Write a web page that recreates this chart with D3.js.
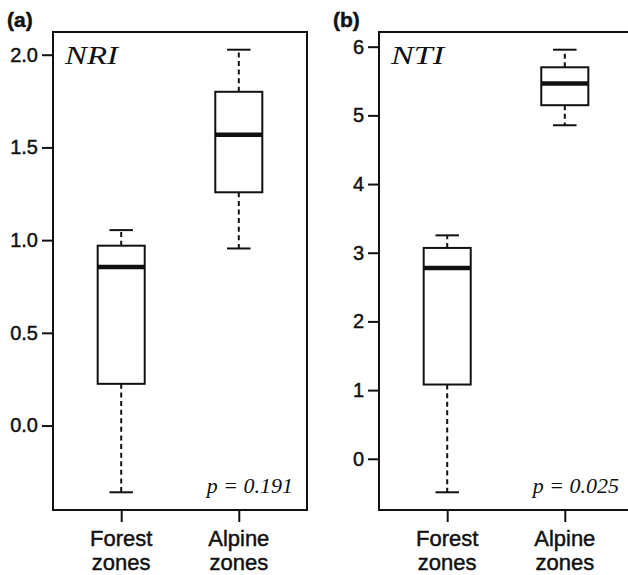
<!DOCTYPE html>
<html>
<head>
<meta charset="utf-8">
<script src="https://cdn.jsdelivr.net/npm/d3@7"></script>
<style>
  body { margin: 0; background: #fff; }
  svg { display: block; }
  text { stroke: #111; stroke-width: 0.45px; }
  text.serif { stroke: none; }
  .axis text { font-family: Arial, "Liberation Sans", sans-serif; font-size: 20px; fill: #111; }
  .axis line { stroke: #111; stroke-width: 2px; }
  .axis path { display: none; }
</style>
</head>
<body>
<svg id="chart"></svg>
<script>
// Box statistics: [lower whisker, Q1, median, Q3, upper whisker]
const groups = ["Forest zones", "Alpine zones"];
const nriForest = [-0.36, 0.225, 0.855, 0.97, 1.054];
const nriAlpine = [0.955, 1.258, 1.568, 1.80, 2.027];
const ntiForest = [-0.488, 1.081, 2.777, 3.07, 3.253];
const ntiAlpine = [4.856, 5.148, 5.465, 5.70, 5.956];
const nriTicks = [0, 0.5, 1.0, 1.5, 2.0];
const ntiTicks = [0, 1, 2, 3, 4, 5, 6];

const svg = d3.select('#chart')
    .attr('width', 628)
    .attr('height', 575);

const ink = '#111';

function drawPanel(cfg) {
    const g = svg.append('g');

    // R style ranges: extend by 4% on each side
    const lo = d3.min(cfg.stats, d => d[0]);
    const hi = d3.max(cfg.stats, d => d[4]);
    const pad = (hi - lo) * 0.04;

    const y = d3.scaleLinear()
        .domain([lo - pad, hi + pad])
        .range([cfg.bottom, cfg.top]);

    const x = d3.scaleLinear()
        .domain([0.5 - 0.08, groups.length + 0.5 + 0.08])
        .range([cfg.left, cfg.left + cfg.width]);

    const boxW = x(1.4) - x(1);
    const capW = boxW / 2;

    // frame
    g.append('rect')
        .attr('x', cfg.left)
        .attr('y', cfg.top)
        .attr('width', cfg.width)
        .attr('height', cfg.bottom - cfg.top)
        .attr('fill', 'none')
        .attr('stroke', ink)
        .attr('stroke-width', 2);

    // y axis
    g.append('g')
        .attr('class', 'axis')
        .attr('transform', `translate(${cfg.left},0)`)
        .call(d3.axisLeft(y).tickValues(cfg.ticks).tickFormat(d3.format(cfg.fmt)).tickSize(11).tickPadding(4));

    // x axis ticks
    g.append('g')
        .attr('class', 'axis')
        .attr('transform', `translate(0,${cfg.bottom})`)
        .call(d3.axisBottom(x).tickValues([1, 2]).tickFormat('').tickSize(12));

    // two-line group labels
    groups.forEach((name, i) => {
        const t = g.append('text')
            .attr('x', x(i + 1))
            .attr('y', cfg.bottom + 36)
            .attr('text-anchor', 'middle')
            .style('font-family', 'Arial, "Liberation Sans", sans-serif')
            .style('font-size', '22px')
            .attr('fill', ink);
        name.split(' ').forEach((w, j) => {
            t.append('tspan')
                .attr('x', x(i + 1))
                .attr('dy', j === 0 ? 0 : 24)
                .text(w);
        });
    });

    const boxes = g.selectAll('.box')
        .data(cfg.stats)
        .join('g')
        .attr('class', 'box');

    // whiskers (dashed)
    boxes.append('line')
        .attr('x1', (d, i) => x(i + 1)).attr('x2', (d, i) => x(i + 1))
        .attr('y1', d => y(d[3])).attr('y2', d => y(d[4]))
        .attr('stroke', ink).attr('stroke-width', 2).attr('stroke-dasharray', '5,3.6');
    boxes.append('line')
        .attr('x1', (d, i) => x(i + 1)).attr('x2', (d, i) => x(i + 1))
        .attr('y1', d => y(d[1])).attr('y2', d => y(d[0]))
        .attr('stroke', ink).attr('stroke-width', 2).attr('stroke-dasharray', '5,3.6');

    // staples
    [0, 4].forEach(k => {
        boxes.append('line')
            .attr('x1', (d, i) => x(i + 1) - capW / 2).attr('x2', (d, i) => x(i + 1) + capW / 2)
            .attr('y1', d => y(d[k])).attr('y2', d => y(d[k]))
            .attr('stroke', ink).attr('stroke-width', 2);
    });

    // box
    boxes.append('rect')
        .attr('x', (d, i) => x(i + 1) - boxW / 2)
        .attr('y', d => y(d[3]))
        .attr('width', boxW)
        .attr('height', d => y(d[1]) - y(d[3]))
        .attr('fill', '#fff')
        .attr('stroke', ink)
        .attr('stroke-width', 2);

    // median
    boxes.append('line')
        .attr('x1', (d, i) => x(i + 1) - boxW / 2).attr('x2', (d, i) => x(i + 1) + boxW / 2)
        .attr('y1', d => y(d[2])).attr('y2', d => y(d[2]))
        .attr('stroke', ink).attr('stroke-width', 4.5);

    // panel letter
    g.append('text')
        .attr('x', cfg.left - 46)
        .attr('y', cfg.top - 5)
        .style('font-family', 'Arial, "Liberation Sans", sans-serif')
        .style('font-weight', 'bold')
        .style('font-size', '21px')
        .attr('fill', ink)
        .text(cfg.letter);

    // index name
    g.append('text')
        .attr('class', 'serif')
        .attr('x', cfg.left + 12)
        .attr('y', cfg.top + 32)
        .style('font-family', '"Liberation Serif", "Times New Roman", serif')
        .style('font-style', 'italic')
        .style('font-size', '25px')
        .attr('textLength', 53)
        .attr('lengthAdjust', 'spacingAndGlyphs')
        .attr('fill', ink)
        .text(cfg.name);

    // p value
    g.append('text')
        .attr('class', 'serif')
        .attr('x', cfg.left + 240)
        .attr('y', cfg.bottom - 17)
        .attr('text-anchor', 'end')
        .style('font-family', '"Liberation Serif", "Times New Roman", serif')
        .style('font-style', 'italic')
        .style('font-size', '22px')
        .attr('fill', ink)
        .text(cfg.p);
}

drawPanel({
    left: 53, width: 254, top: 32, bottom: 510,
    stats: [nriForest, nriAlpine], ticks: nriTicks, fmt: '.1f',
    letter: '(a)', name: 'NRI', p: 'p = 0.191'
});

drawPanel({
    left: 379, width: 254, top: 32, bottom: 510,
    stats: [ntiForest, ntiAlpine], ticks: ntiTicks, fmt: 'd',
    letter: '(b)', name: 'NTI', p: 'p = 0.025'
});
</script>
</body>
</html>
